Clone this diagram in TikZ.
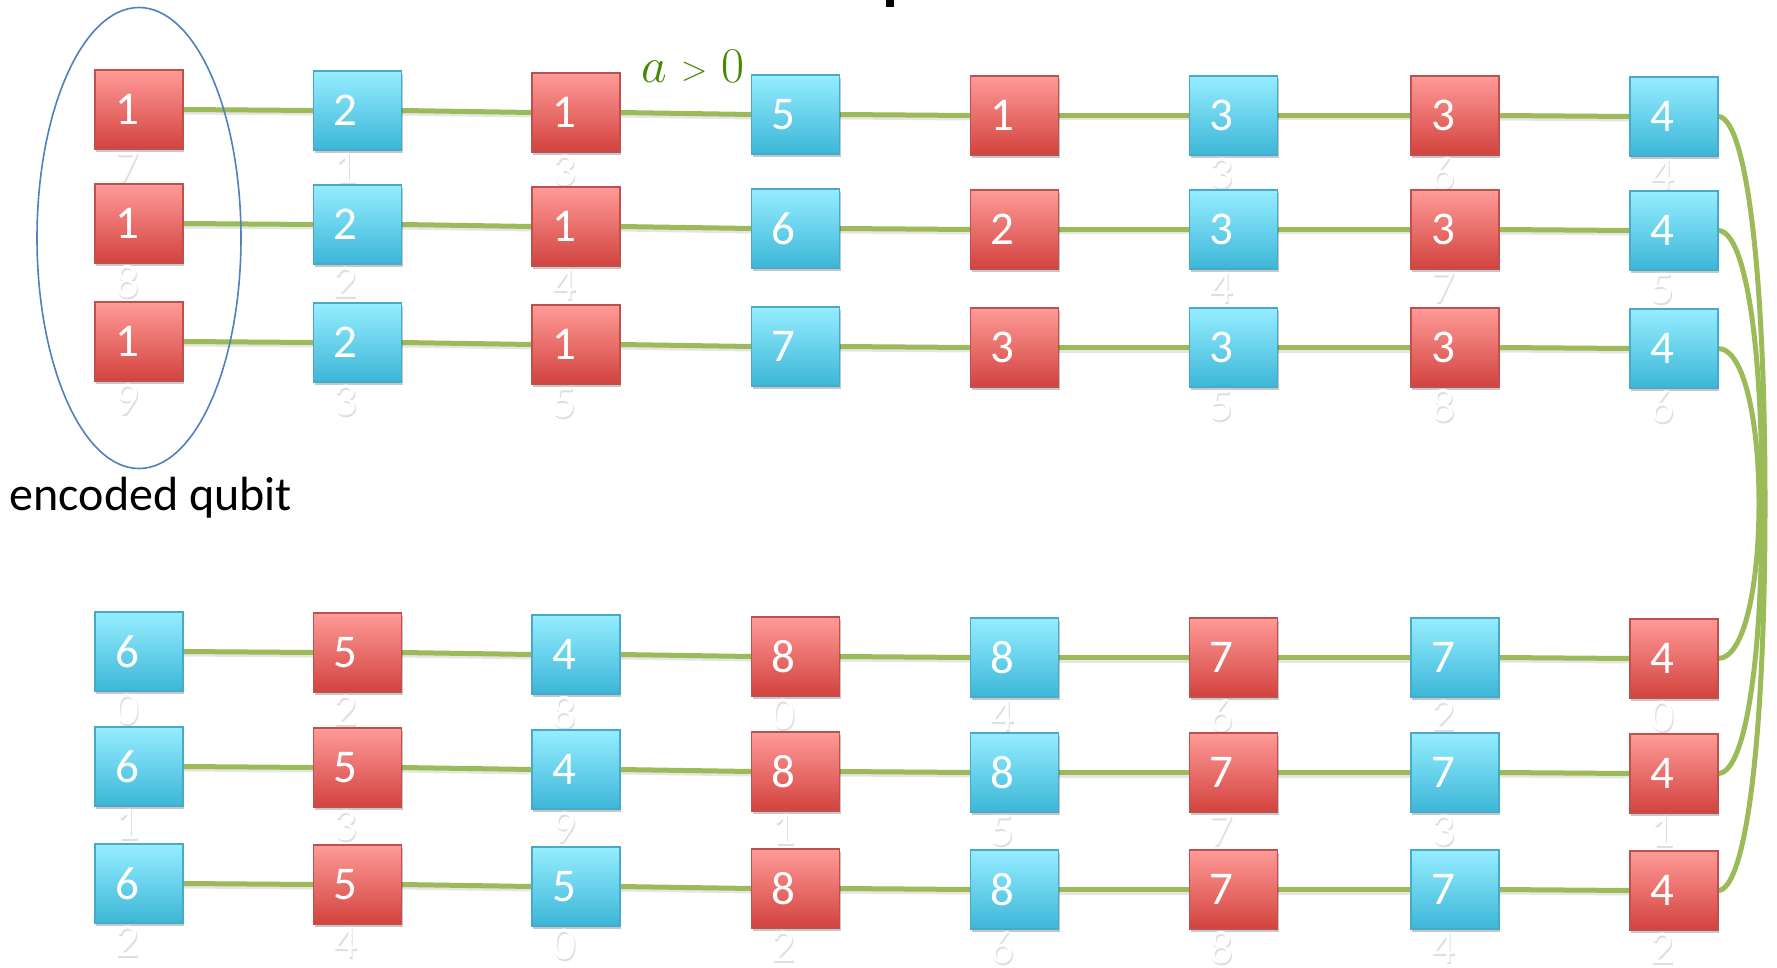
\documentclass[tikz,border=0pt]{standalone}
\usepackage{fix-cm}
\usepackage[no-math]{fontspec}
\setmainfont{Carlito}
\usetikzlibrary{shapes.geometric,shadows,backgrounds}
\definecolor{redT}{RGB}{255,155,152}
\definecolor{redD}{RGB}{210,66,62}
\definecolor{redB}{RGB}{192,80,77}
\definecolor{bluT}{RGB}{150,237,255}
\definecolor{bluD}{RGB}{60,182,216}
\definecolor{bluB}{RGB}{70,170,200}
\definecolor{wgreen}{RGB}{155,187,89}
\definecolor{ellblue}{RGB}{79,129,189}
\definecolor{agreen}{RGB}{70,136,0}
\newcommand\bigf{\fontsize{47pt}{56pt}\selectfont}
\newcommand\qb[6]{%
  \node[#4] (#1) at (#2,#3) {};
  \node[dgs] (#1s) at ([xshift=-11pt,yshift=-60pt]#1.center) {#6};
  \node[dg] (#1b) at ([xshift=-12pt,yshift=-58pt]#1.center) {#6};
  \node[dg] (#1a) at ([xshift=-12pt]#1.center) {#5};}
\newcommand\qs[5]{%
  \node[#4] (#1) at (#2,#3) {};
  \node[dg] (#1a) at ([xshift=-12pt]#1.center) {#5};}
\tikzset{
  boxbase/.style={rectangle, line width=1.5pt, minimum width=88pt, minimum height=79pt,
    inner sep=0pt, outer sep=0pt,
    drop shadow={shadow xshift=1pt, shadow yshift=-3pt, opacity=0.22, fill=black}},
  rbox/.style={boxbase, draw=redB, top color=redT, bottom color=redD},
  bbox/.style={boxbase, draw=bluB, top color=bluT, bottom color=bluD},
  dg/.style={text=white, font=\bigf, inner sep=0pt},
  dgs/.style={text=black!13, font=\bigf, inner sep=0pt},
  wire/.style={draw=wgreen, line width=5pt},
  wshadow/.style={draw=black!10, line width=5pt},
}
\begin{document}
\begin{tikzpicture}[x=1pt,y=-1pt]
\useasboundingbox (0,0) rectangle (1777,968);
% top fragment
\fill[black] (886,0) rectangle (894,7);
% row 1
\qb{r1-1}{139}{109.5}{rbox}{1}{7}
\qb{r1-2}{357.5}{110.5}{bbox}{2}{1}
\qb{r1-3}{576}{112.5}{rbox}{1}{3}
\qs{r1-4}{795.5}{114.5}{bbox}{5}
\qs{r1-5}{1014.5}{115.5}{rbox}{1}
\qb{r1-6}{1233.5}{115.5}{bbox}{3}{3}
\qb{r1-7}{1455}{115.5}{rbox}{3}{6}
\qb{r1-8}{1674}{116.5}{bbox}{4}{4}
% row 2
\qb{r2-1}{139}{223.5}{rbox}{1}{8}
\qb{r2-2}{357.5}{224.5}{bbox}{2}{2}
\qb{r2-3}{576}{226.5}{rbox}{1}{4}
\qs{r2-4}{795.5}{228.5}{bbox}{6}
\qs{r2-5}{1014.5}{229.5}{rbox}{2}
\qb{r2-6}{1233.5}{229.5}{bbox}{3}{4}
\qb{r2-7}{1455}{229.5}{rbox}{3}{7}
\qb{r2-8}{1674}{230.5}{bbox}{4}{5}
% row 3
\qb{r3-1}{139}{341.5}{rbox}{1}{9}
\qb{r3-2}{357.5}{342.5}{bbox}{2}{3}
\qb{r3-3}{576}{344.5}{rbox}{1}{5}
\qs{r3-4}{795.5}{346.5}{bbox}{7}
\qs{r3-5}{1014.5}{347.5}{rbox}{3}
\qb{r3-6}{1233.5}{347.5}{bbox}{3}{5}
\qb{r3-7}{1455}{347.5}{rbox}{3}{8}
\qb{r3-8}{1674}{348.5}{bbox}{4}{6}
% row 4
\qb{r4-1}{139}{651.5}{bbox}{6}{0}
\qb{r4-2}{357.5}{652.5}{rbox}{5}{2}
\qb{r4-3}{576}{654.5}{bbox}{4}{8}
\qb{r4-4}{795.5}{656.5}{rbox}{8}{0}
\qb{r4-5}{1014.5}{657.5}{bbox}{8}{4}
\qb{r4-6}{1233.5}{657.5}{rbox}{7}{6}
\qb{r4-7}{1455}{657.5}{bbox}{7}{2}
\qb{r4-8}{1674}{658.5}{rbox}{4}{0}
% row 5
\qb{r5-1}{139}{766.5}{bbox}{6}{1}
\qb{r5-2}{357.5}{767.5}{rbox}{5}{3}
\qb{r5-3}{576}{769.5}{bbox}{4}{9}
\qb{r5-4}{795.5}{771.5}{rbox}{8}{1}
\qb{r5-5}{1014.5}{772.5}{bbox}{8}{5}
\qb{r5-6}{1233.5}{772.5}{rbox}{7}{7}
\qb{r5-7}{1455}{772.5}{bbox}{7}{3}
\qb{r5-8}{1674}{773.5}{rbox}{4}{1}
% row 6
\qb{r6-1}{139}{883.5}{bbox}{6}{2}
\qb{r6-2}{357.5}{884.5}{rbox}{5}{4}
\qb{r6-3}{576}{886.5}{bbox}{5}{0}
\qb{r6-4}{795.5}{888.5}{rbox}{8}{2}
\qb{r6-5}{1014.5}{889.5}{bbox}{8}{6}
\qb{r6-6}{1233.5}{889.5}{rbox}{7}{8}
\qb{r6-7}{1455}{889.5}{bbox}{7}{4}
\qb{r6-8}{1674}{890.5}{rbox}{4}{2}
% turn-around points
\coordinate (m1) at (1765,503.5);
\coordinate (m2) at (1762,502);
\coordinate (m3) at (1759,503.5);
\begin{pgfonlayer}{background}
\fill[white] (0,0) rectangle (1777,968);
\foreach \r in {1,...,6}{
  \foreach \c [evaluate=\c as \n using int(\c+1)] in {1,...,7}{
    \draw[wshadow] ([yshift=-2.5pt]r\r-\c.east) -- ([yshift=-2.5pt]r\r-\n.west);
    \draw[wire] (r\r-\c.east) -- (r\r-\n.west);
  }
}
\draw[wire] (r1-8.east) .. controls (1745,116.5) and (1765,260) .. (m1)
  .. controls (1765,747) and (1745,890.5) .. (r6-8.east);
\draw[wire] (r2-8.east) .. controls (1745,230.5) and (1762,340) .. (m2)
  .. controls (1762,664) and (1745,773.5) .. (r5-8.east);
\draw[wire] (r3-8.east) .. controls (1745,348.5) and (1759,425) .. (m3)
  .. controls (1759,582) and (1745,658.5) .. (r4-8.east);
\end{pgfonlayer}
% encoded qubit ellipse
\node[ellipse, draw=ellblue, line width=1.6pt, minimum width=204pt, minimum height=461pt, inner sep=0pt] (enc) at (139,238) {};
\node[anchor=base west, font=\fontsize{48pt}{56pt}\selectfont, inner sep=0pt] (enclabel) at (9.5,510) {encoded qubit};
\node[anchor=base west, text=agreen, inner sep=0pt, font=\fontsize{50pt}{60pt}\selectfont] (acond) at (641,83) {$a\;\raisebox{2pt}{$\scriptstyle>$}\;0$};
\end{tikzpicture}
\end{document}
